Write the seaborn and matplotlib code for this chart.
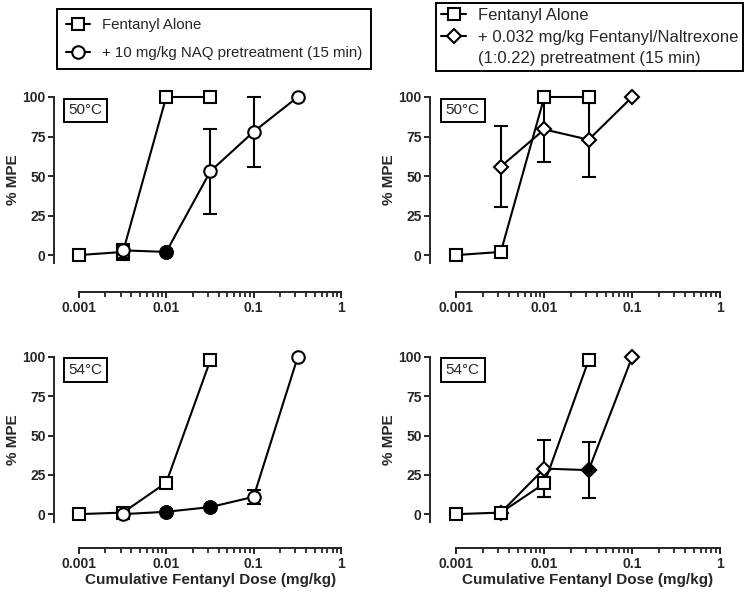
import numpy as np
import pandas as pd
import seaborn as sns
import matplotlib.pyplot as plt
from matplotlib.lines import Line2D
from matplotlib.ticker import NullFormatter, FixedLocator

# dados (% MPE)
dose_alone = [0.001, 0.0032, 0.01, 0.032]
dose_naq = [0.0032, 0.01, 0.032, 0.1, 0.32]
dose_fn = [0.0032, 0.01, 0.032, 0.1]

# 50 graus
alone_50 = [0, 2, 100, 100]
alone_50_sem = [0, 5, 0, 0]
naq_50 = [3, 2, 53, 78, 100]
naq_50_sem = [0, 0, 27, 22, 0]
naq_50_filled = [False, True, False, False, False]
alone_50b = [0, 2, 100, 100]
alone_50b_sem = [0, 0, 0, 0]
fn_50 = [56, 79.5, 73, 100]
fn_50_sem = [25.5, 20.5, 23.5, 0]
fn_50_filled = [False, False, False, False]

# 54 graus
alone_54 = [0, 1, 20, 98]
alone_54_sem = [0, 0, 3, 0]
naq_54 = [0, 1.5, 4.5, 11, 100]
naq_54_sem = [0, 0, 0, 4.5, 0]
naq_54_filled = [False, True, True, False, False]
alone_54b = [0, 1, 19.5, 98]
alone_54b_sem = [0, 0, 8.5, 0]
fn_54 = [1, 29, 28, 100]
fn_54_sem = [0, 18, 18, 0]
fn_54_filled = [False, False, True, False]

x_ticks = [0.001, 0.01, 0.1, 1]
x_tick_labels = ["0.001", "0.01", "0.1", "1"]
y_ticks = [0, 25, 50, 75, 100]

label_alone = "Fentanyl Alone"
label_naq = "+ 10 mg/kg NAQ pretreatment (15 min)"
label_fn_1 = "+ 0.032 mg/kg Fentanyl/Naltrexone"
label_fn_2 = "(1:0.22) pretreatment (15 min)"

sns.set_style("ticks")
plt.rcParams["font.family"] = ["Liberation Sans", "DejaVu Sans"]
plt.rcParams["axes.linewidth"] = 1.4
plt.rcParams["xtick.minor.size"] = 3.5
plt.rcParams["xtick.minor.width"] = 1.3

LW = 1.5
MS_SQ = 9
MS_D = 7
fig = plt.figure(figsize=(7.49, 5.95), dpi=100)

W, H = 749, 595
def rect(l, r, t, b):
    return [l / W, 1 - b / H, (r - l) / W, (b - t) / H]

ax_tl = fig.add_axes(rect(54, 341, 97, 263))
ax_tr = fig.add_axes(rect(430, 720, 97, 263))
ax_bl = fig.add_axes(rect(54, 341, 357, 522))
ax_br = fig.add_axes(rect(430, 720, 357, 522))

# ticks menores so entre 0.001 e 1
minor = [k * 10.0 ** e for e in (-3, -2, -1) for k in range(2, 10)]


def serie(ax, x, y, sem, marker, ms, filled=None):
    df = pd.DataFrame({"dose": x, "mpe": y})
    x = np.array(x)
    y = np.array(y)
    sem = np.array(sem)
    m = sem > 0
    if m.any():
        ax.errorbar(x[m], y[m], yerr=sem[m], fmt="none", ecolor="black",
                    elinewidth=LW, capsize=5, capthick=LW, zorder=2,
                    clip_on=False)
    sns.lineplot(data=df, x="dose", y="mpe", ax=ax, color="black", lw=LW,
                 marker=marker, markersize=ms, markerfacecolor="white",
                 markeredgecolor="black", markeredgewidth=LW, clip_on=False,
                 zorder=3, sort=False)
    if filled is not None:
        f = np.array(filled)
        if f.any():
            ax.plot(x[f], y[f], ls="none", marker=marker, ms=ms, mfc="black",
                    mec="black", mew=LW, clip_on=False, zorder=4)


def formata(ax, temp, xoff, xmin, xlabel, box_x):
    # caixa da temperatura
    ax.text(box_x, 91.5, temp, transform=ax.get_yaxis_transform(), ha="center",
            va="center", fontsize=11, zorder=6,
            bbox=dict(boxstyle="square,pad=0.32", fc="white", ec="black", lw=1.4))
    ax.set_ylabel("% MPE", fontsize=11, fontweight="bold", labelpad=2)
    ax.set_xlabel(xlabel, fontsize=11, fontweight="bold")
    ax.xaxis.set_label_coords(0.544, -0.31)
    ax.set_xscale("log")
    ax.set_xlim(xmin, 1)
    ax.set_ylim(-5, 100)
    sns.despine(ax=ax)
    ax.spines["bottom"].set_position(("outward", xoff))
    ax.spines["bottom"].set_bounds(0.001, 1)
    ax.set_yticks(y_ticks)
    ax.xaxis.set_major_locator(FixedLocator(x_ticks))
    ax.set_xticklabels(x_tick_labels)
    for t in ax.get_xticklabels() + ax.get_yticklabels():
        t.set_fontweight("bold")
    ax.tick_params(axis="both", which="major", length=4.5, width=1.4,
                   labelsize=10, pad=1.5, direction="out")


# painel superior esquerdo
serie(ax_tl, dose_alone, alone_50, alone_50_sem, "s", MS_SQ)
serie(ax_tl, dose_naq, naq_50, naq_50_sem, "o", MS_SQ, naq_50_filled)
formata(ax_tl, "50°C", 21, 0.00052, "", 0.11)

# painel superior direito
serie(ax_tr, dose_alone, alone_50b, alone_50b_sem, "s", MS_SQ)
serie(ax_tr, dose_fn, fn_50, fn_50_sem, "D", MS_D, fn_50_filled)
formata(ax_tr, "50°C", 21, 0.0005, "", 0.113)

# painel inferior esquerdo
serie(ax_bl, dose_alone, alone_54, alone_54_sem, "s", MS_SQ)
serie(ax_bl, dose_naq, naq_54, naq_54_sem, "o", MS_SQ, naq_54_filled)
formata(ax_bl, "54°C", 19, 0.00052, "Cumulative Fentanyl Dose (mg/kg)", 0.11)

# painel inferior direito
serie(ax_br, dose_fn, fn_54, fn_54_sem, "D", MS_D, fn_54_filled)
serie(ax_br, dose_alone, alone_54b, alone_54b_sem, "s", MS_SQ)
formata(ax_br, "54°C", 19, 0.0005, "Cumulative Fentanyl Dose (mg/kg)", 0.113)

# legendas
def handle(marker, ms):
    return Line2D([], [], color="black", lw=LW, marker=marker, ms=ms,
                  mfc="white", mec="black", mew=LW)

leg1 = fig.legend([handle("s", MS_SQ), handle("o", MS_SQ)], [label_alone, label_naq],
                  loc="upper left", bbox_to_anchor=(57 / W, 1 - 9 / H),
                  fontsize=10.8, frameon=True, fancybox=False, edgecolor="black",
                  framealpha=1, borderaxespad=0, handlelength=1.6,
                  handletextpad=0.8, labelspacing=0.95, borderpad=0.6)
leg1.get_frame().set_linewidth(1.4)

vazio = Line2D([], [], color="none")
leg2 = fig.legend([handle("s", MS_SQ), handle("D", MS_D), vazio],
                  [label_alone, label_fn_1, label_fn_2],
                  loc="upper left", bbox_to_anchor=(436 / W, 1 - 3 / H),
                  fontsize=12, frameon=True, fancybox=False, edgecolor="black",
                  framealpha=1, borderaxespad=0, handlelength=1.5,
                  handletextpad=0.7, labelspacing=0.4, borderpad=0.3)
leg2.get_frame().set_linewidth(1.4)

# ticks menores do eixo x no fim
for ax in [ax_tl, ax_tr, ax_bl, ax_br]:
    ax.xaxis.set_minor_locator(FixedLocator(minor))
    ax.xaxis.set_minor_formatter(NullFormatter())
    ax.tick_params(axis="x", which="minor", bottom=True, length=3.5, width=1.3,
                   direction="out")

fig.canvas.draw()
fig.savefig("out.png", dpi=100)
